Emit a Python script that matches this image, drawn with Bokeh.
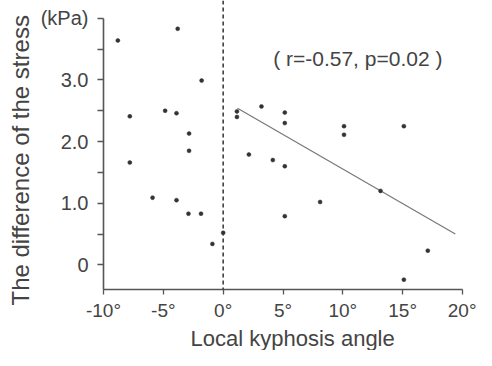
from bokeh.plotting import figure
from bokeh.models import Label, Span, FixedTicker, Title
from bokeh.embed import file_html
from bokeh.resources import INLINE

# Data
angle = [-8.8, -7.8, -7.8, -5.9, -4.85, -3.9, -3.9, -3.8, -2.85, -2.85, -2.9,
         -1.8, -1.85, -0.9, 0.0, 1.15, 1.15, 2.15, 3.2, 4.15, 5.15, 5.15,
         5.15, 5.15, 8.1, 10.1, 10.1, 13.15, 15.1, 15.1, 17.1]
stress = [3.64, 2.41, 1.66, 1.09, 2.50, 2.46, 1.05, 3.83, 2.13, 1.85, 0.83,
          2.99, 0.83, 0.34, 0.52, 2.49, 2.40, 1.79, 2.57, 1.70, 2.47, 2.30,
          1.60, 0.79, 1.02, 2.25, 2.11, 1.20, 2.25, -0.24, 0.23]
fit_x = [1.2, 19.4]
fit_y = [2.54, 0.50]

x_ticks = [-10, -5, 0, 5, 10, 15, 20]
x_tick_labels = ["-10°", "-5°", "0°", "5°", "10°", "15°", "20°"]
y_ticks = [0, 0.5, 1, 1.5, 2, 2.5, 3, 3.5, 4]
y_tick_labels = ["0", "", "1.0", "", "2.0", "", "3.0", "", "(kPa)"]

stat_text = "( r=-0.57, p=0.02 )"
x_title = "Local kyphosis angle"
y_title = "The difference of the stress"

FONT = "Liberation Sans"
TXT = "#444444"

p = figure(width=476, height=350, x_range=(-10, 20), y_range=(-0.40, 4.289),
           output_backend="svg", toolbar_location=None,
           min_border_left=102, min_border_right=14, min_border_top=0,
           min_border_bottom=54)
p.outline_line_color = None
p.grid.visible = False
p.background_fill_color = "white"

# axes
p.xaxis.ticker = FixedTicker(ticks=x_ticks)
p.xaxis.major_label_overrides = {t: l for t, l in zip(x_ticks, x_tick_labels)}
p.yaxis.ticker = FixedTicker(ticks=y_ticks)
p.yaxis.major_label_overrides = {t: l for t, l in zip(y_ticks, y_tick_labels)}
p.yaxis.bounds = (-0.40, 4.0)
for ax in (p.xaxis, p.yaxis):
    ax.axis_line_color = "#555555"
    ax.axis_line_width = 1.6
    ax.major_tick_line_color = "#555555"
    ax.major_tick_line_width = 1.3
    ax.major_tick_out = 6
    ax.major_tick_in = 0
    ax.minor_tick_line_color = None
    ax.major_label_text_font = FONT
    ax.major_label_text_color = TXT
p.xaxis.major_tick_out = 5
p.xaxis.major_label_text_font_size = "19px"
p.yaxis.major_label_text_font_size = "20px"
p.xaxis.major_label_standoff = 5
p.yaxis.major_label_standoff = 9

# axis titles
p.add_layout(Title(text=x_title, align="left", offset=87, standoff=0,
                   text_font=FONT, text_font_size="22px",
                   text_font_style="normal", text_color=TXT), "below")
p.add_layout(Title(text=y_title, align="left", offset=-16, standoff=8,
                   text_font=FONT, text_font_size="24px",
                   text_font_style="normal", text_color=TXT), "left")

# zero reference line
p.add_layout(Span(location=0, dimension="height", line_color="#333333",
                  line_width=1.5, line_dash="4 3"))

# regression line
p.line(fit_x, fit_y, line_color="#777777", line_width=1.2)

# points
p.scatter(angle, stress, size=4, marker="circle", fill_color="#333333",
          line_color="#333333", line_width=0.5)

# correlation note
p.add_layout(Label(x=11.25, y=3.353, text=stat_text, text_align="center",
                   text_baseline="alphabetic", text_font=FONT,
                   text_font_size="21px", text_color=TXT))

open("out.html", "w").write(file_html(p, INLINE))
